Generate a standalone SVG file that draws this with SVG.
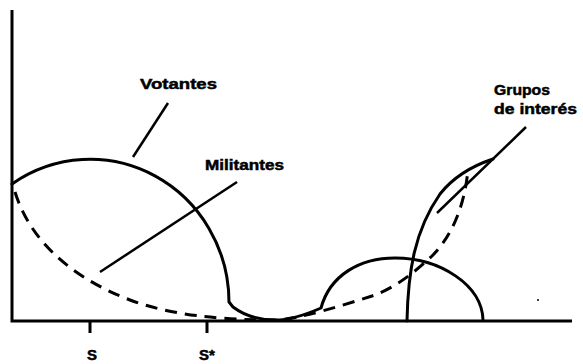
<svg xmlns="http://www.w3.org/2000/svg" width="583" height="364" viewBox="0 0 583 364">
<style>
.ax{stroke:#000;stroke-width:3;fill:none}
.cv{stroke:#000;stroke-width:3;fill:none;stroke-linejoin:round;stroke-linecap:round}
.ds{stroke:#000;stroke-width:3;fill:none;stroke-dasharray:12 8}
.ld{stroke:#000;stroke-width:2.5;fill:none}
.lb{font-family:"Liberation Sans",Arial,sans-serif;font-weight:bold;font-size:15px;fill:#000;stroke:#000;stroke-width:0.5}
</style>
<rect width="583" height="364" fill="#fff"/>
<g id="axes">
<path class="ax" d="M12,10 L12,321 L572,321"/>
<path class="ax" d="M90,321 L90,333 M207,321 L207,333"/>
<text class="lb" x="92" y="360" text-anchor="middle">S</text>
<text class="lb" x="199" y="360">S*</text>
</g>
<g id="votantes">
<path class="cv" d="M12,184 A139 143 0 0 1 229,302 L233,307 C245,316 260,320 275,320 C290,320 305,315 321,308 C330,275 360,258 395,258 C440,258 482,285 483,320"/>
<text class="lb" x="140" y="89" textLength="77" lengthAdjust="spacingAndGlyphs">Votantes</text>
</g>
<g id="militantes">
<path class="ds" d="M15,192 C30,240 70,277 130,300 C170,315 220,320 275,320 C300,319 340,306 372,296 C395,288 415,272 432,256 C450,238 464,210 468,170"/>
<text class="lb" x="205" y="170" textLength="79" lengthAdjust="spacingAndGlyphs">Militantes</text>
</g>
<g id="grupos">
<path class="cv" d="M407,321 C408,270 415,230 440,194 C455,175 475,165 493,159"/>
<text class="lb" x="494" y="95" textLength="56" lengthAdjust="spacingAndGlyphs">Grupos</text>
<text class="lb" x="494" y="114" textLength="83" lengthAdjust="spacingAndGlyphs">de interés</text>
</g>
<g id="connectors">
<line class="ld" x1="133" y1="157" x2="168" y2="103"/>
<line class="ld" x1="100" y1="272" x2="237" y2="182"/>
<line class="ld" x1="437" y1="213" x2="526" y2="127"/>
</g>
<circle cx="538" cy="300" r="1" fill="#000"/>
</svg>
